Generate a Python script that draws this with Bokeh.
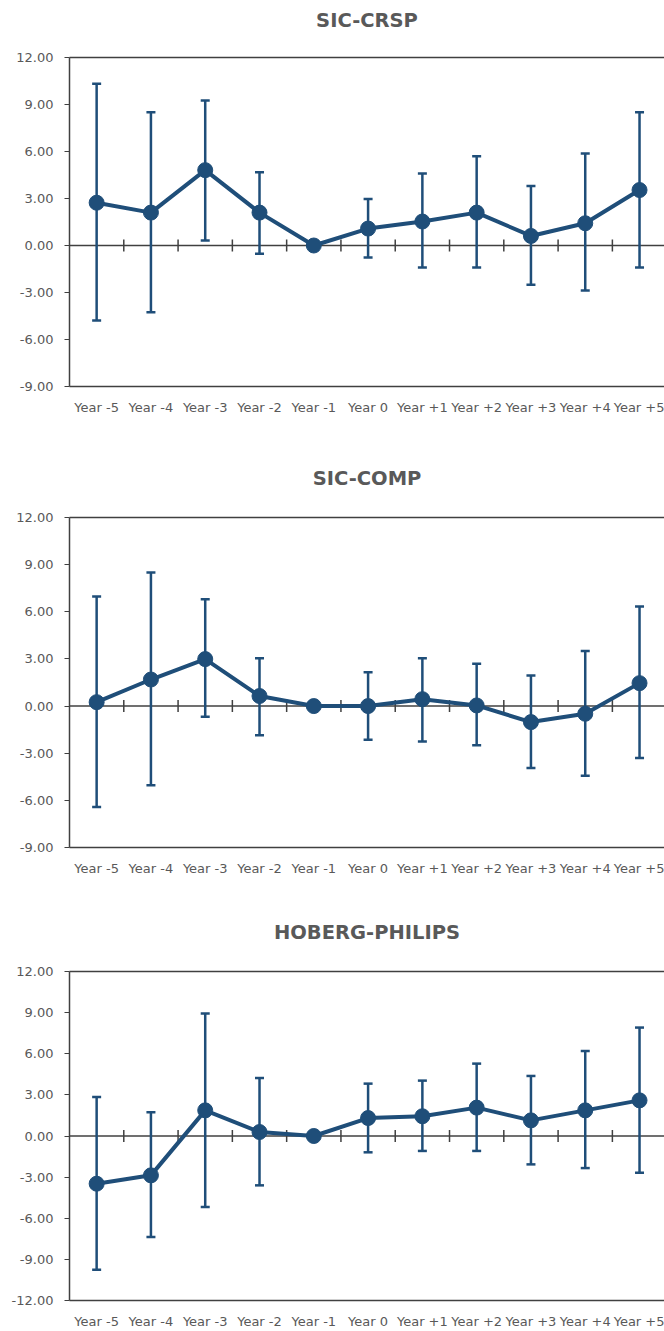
import numpy as np
from bokeh.plotting import figure
from bokeh.models import (ColumnDataSource, Whisker, TeeHead, Span, FixedTicker,
                          NumeralTickFormatter, LinearAxis, Range1d)
from bokeh.layouts import column
from bokeh.embed import file_html
from bokeh.resources import INLINE

# ---------------- data ----------------
years = ["Year -5", "Year -4", "Year -3", "Year -2", "Year -1", "Year 0",
         "Year +1", "Year +2", "Year +3", "Year +4", "Year +5"]

crsp_mean = [2.73, 2.10, 4.81, 2.10, 0.00, 1.08, 1.53, 2.10, 0.61, 1.42, 3.54]
crsp_upper = [10.32, 8.50, 9.26, 4.68, 0.00, 2.97, 4.60, 5.70, 3.79, 5.87, 8.50]
crsp_lower = [-4.79, -4.26, 0.32, -0.53, 0.00, -0.76, -1.40, -1.40, -2.50, -2.88, -1.40]

comp_mean = [0.25, 1.69, 2.99, 0.64, 0.00, 0.00, 0.44, 0.04, -1.02, -0.49, 1.46]
comp_upper = [6.97, 8.50, 6.80, 3.05, 0.00, 2.16, 3.05, 2.69, 1.95, 3.50, 6.33]
comp_lower = [-6.42, -5.04, -0.68, -1.86, 0.00, -2.14, -2.25, -2.50, -3.94, -4.43, -3.31]

hp_mean = [-3.48, -2.87, 1.87, 0.29, 0.00, 1.31, 1.44, 2.07, 1.14, 1.87, 2.60]
hp_upper = [2.85, 1.73, 8.93, 4.23, 0.00, 3.82, 4.04, 5.28, 4.38, 6.20, 7.91]
hp_lower = [-9.76, -7.37, -5.18, -3.60, 0.00, -1.19, -1.09, -1.09, -2.07, -2.34, -2.68]

titles = ["SIC-CRSP", "SIC-COMP", "HOBERG-PHILIPS"]
y_mins = [-9, -9, -12]
y_max = 12
y_step = 3

BLUE = "#1F4E79"
AXIS = "#404040"
TEXT = "#595959"
FONT = "DejaVu Sans"


def make_panel(title, mean, upper, lower, y_lo, height, b_top, b_bottom, gap):
    x = list(range(len(years)))
    src = ColumnDataSource(dict(x=x, mean=mean, upper=upper, lower=lower))
    p = figure(width=664, height=height,
               x_range=Range1d(-0.5, 10.46), y_range=Range1d(y_lo, y_max),
               output_backend="svg", toolbar_location=None,
               min_border_left=69, min_border_right=0,
               min_border_top=b_top, min_border_bottom=b_bottom)
    p.outline_line_color = None
    p.xgrid.grid_line_color = None
    p.ygrid.grid_line_color = None
    p.background_fill_color = "white"
    p.border_fill_color = "white"

    # title
    p.title.text = title
    p.title.align = "center"
    p.title.vertical_align = "top"
    p.title.text_font = FONT
    p.title.text_font_size = "19.5px"
    p.title.text_font_style = "bold"
    p.title.text_color = TEXT
    p.title.standoff = 4

    # x axis (bottom)
    xa = p.xaxis[0]
    xa.ticker = FixedTicker(ticks=x)
    xa.major_label_overrides = {i: years[i] for i in x}
    xa.major_tick_line_color = None
    xa.minor_tick_line_color = None
    xa.axis_line_color = AXIS
    xa.axis_line_width = 1.5
    xa.major_label_text_font = FONT
    xa.major_label_text_font_size = "13px"
    xa.major_label_text_color = TEXT
    xa.major_label_standoff = 7

    # y axis
    ya = p.yaxis[0]
    ya.ticker = FixedTicker(ticks=list(range(y_lo, y_max + 1, y_step)))
    ya.formatter = NumeralTickFormatter(format="0.00")
    ya.minor_tick_line_color = None
    ya.major_tick_in = 0
    ya.major_tick_out = 5
    ya.major_tick_line_color = AXIS
    ya.axis_line_color = AXIS
    ya.axis_line_width = 1.5
    ya.major_label_text_font = FONT
    ya.major_label_text_font_size = "13px"
    ya.major_label_text_color = TEXT
    ya.major_label_standoff = 11

    # top frame line (its blank label keeps the gap between title and plot)
    top = LinearAxis(ticker=FixedTicker(ticks=[]), axis_line_color=AXIS,
                     axis_line_width=1.5, major_tick_line_color=None,
                     minor_tick_line_color=None, major_label_text_font_size="0px",
                     axis_label=" ", axis_label_text_font_size=f"{gap}px",
                     axis_label_text_color="white", axis_label_standoff=2)
    p.add_layout(top, "above")

    # zero line with category-boundary ticks
    p.add_layout(Span(location=0, dimension="width", line_color=AXIS,
                      line_width=1.5, level="underlay"))
    bounds = [i + 0.5 for i in x[:-1]]
    p.scatter(x=bounds, y=[0] * len(bounds), marker="dash", angle=np.pi / 2,
              size=12, line_color=AXIS, line_width=1.5)

    # error bars
    head = dict(size=9, line_color=BLUE, line_width=2.5)
    p.add_layout(Whisker(source=src, base="x", upper="upper", lower="lower",
                         line_color=BLUE, line_width=2.5,
                         upper_head=TeeHead(**head), lower_head=TeeHead(**head)))
    p.line("x", "mean", source=src, line_color=BLUE, line_width=4)
    p.scatter("x", "mean", source=src, size=15, fill_color=BLUE, line_color=BLUE)
    return p


p1 = make_panel(titles[0], crsp_mean, crsp_upper, crsp_lower, y_mins[0], 460, 57, 74, 16)
p2 = make_panel(titles[1], comp_mean, comp_upper, comp_lower, y_mins[1], 450, 57, 63, 17)
p3 = make_panel(titles[2], hp_mean, hp_upper, hp_lower, y_mins[2], 421, 61, 31, 17)

layout = column(p1, p2, p3, spacing=0)
open("out.html", "w").write(file_html(layout, INLINE))
